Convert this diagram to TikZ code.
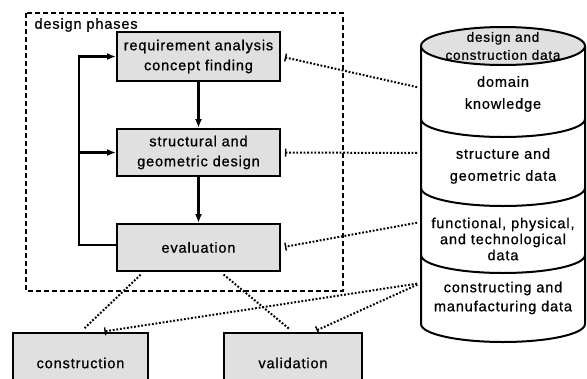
\documentclass[tikz,border=0pt]{standalone}
\usepackage{fontspec}
\setmainfont[LetterSpace=6, FakeBold=0.8]{Liberation Sans}
\usetikzlibrary{arrows.meta}
\tikzset{> = {Latex[length=9pt, width=7pt]}}
\tikzset{phase/.style={draw, line width=2pt, fill=black!12, minimum width=163pt, align=center,
    font=\fontsize{14.5}{20}\selectfont},
  flow/.style={->, line width=2.2pt},
  dbtext/.style={align=center, font=\fontsize{14.5}{22}\selectfont},
  link/.style={line width=2pt, dash pattern=on 1.8pt off 1.8pt, shorten <=4pt, shorten >=4pt},
  tiplink/.style={link, -{Bar[width=8pt, line width=1.4pt]}}}

\begin{document}
\begin{tikzpicture}[x=1pt, y=-1pt]
		\useasboundingbox (0,0) rectangle (587,378);
		\clip (0,0) rectangle (587,378);
		% design phases
		\draw[line width=2pt, dash pattern=on 5pt off 3pt] (26,13) rectangle (343,291);
		\node[anchor=west, font=\fontsize{14.5}{16}\selectfont] (phases) at (31,25) {design phases};
		\node[phase, minimum height=49pt] (req) at (198.5,56.5) {requirement analysis\\concept finding};
		\node[phase, minimum height=47pt] (geo) at (198.5,152.5) {structural and\\geometric design};
		\node[phase, minimum height=47pt] (eval) at (198.5,247.5) {evaluation};
		\draw[flow] (req) -- (geo);
		\draw[flow] (geo) -- (eval);
		\coordinate (loop) at (79,245);
		\draw[flow] (eval.west |- loop) -- (loop) -- (loop |- req.west) -- (req.west);
		\draw[flow] (loop |- geo.west) -- (geo.west);
		% results
		\node[phase, minimum width=135pt, minimum height=60pt, anchor=north] (constr) at (80.5,332) {construction};
		\node[phase, minimum width=138pt, minimum height=60pt, anchor=north] (valid) at (293,332) {validation};
		% data base
		\draw[line width=2pt] (421,46) -- (421,324) arc[start angle=180, end angle=360, x radius=82pt, y radius=18pt] -- (585,46);
		\draw[line width=2pt, fill=black!12] (503,46) ellipse[x radius=82pt, y radius=19pt];
		\foreach \y in {119,188,255}
			\draw[line width=2pt] (421,\y) arc[start angle=180, end angle=360, x radius=82pt, y radius=18pt];
		\node[dbtext, font=\fontsize{13.5}{18}\selectfont] (dbhead) at (503,46) {design and\\construction data};
		\node[dbtext] (know) at (503,94) {domain\\knowledge};
		\node[dbtext] (struct) at (503,166) {structure and\\geometric data};
		\node[dbtext, font=\fontsize{14.5}{16}\selectfont] (func) at (503,239) {functional, physical,\\and technological\\data};
		\node[dbtext, font=\fontsize{14.5}{19}\selectfont] (manu) at (503,298) {constructing and\\manufacturing data};
		\coordinate (db1) at (421,88);
		\coordinate (db2) at (421,153);
		\coordinate (db3) at (421,222);
		\coordinate (db4) at (421,283);
		% data links
		\draw[tiplink] (db1) -- (req.east);
		\draw[tiplink] (db2) -- (geo.east);
		\draw[tiplink] (db3) -- (eval.east);
		\draw[tiplink] (db4) -- ([xshift=20pt]constr.north);
		\draw[tiplink] (db4) -- ([xshift=20pt]valid.north);
		\draw[link] ([xshift=-55pt]eval.south) -- (constr.north);
		\draw[link] ([xshift=22pt]eval.south) -- (valid.north);
		\end{tikzpicture}
\end{document}
